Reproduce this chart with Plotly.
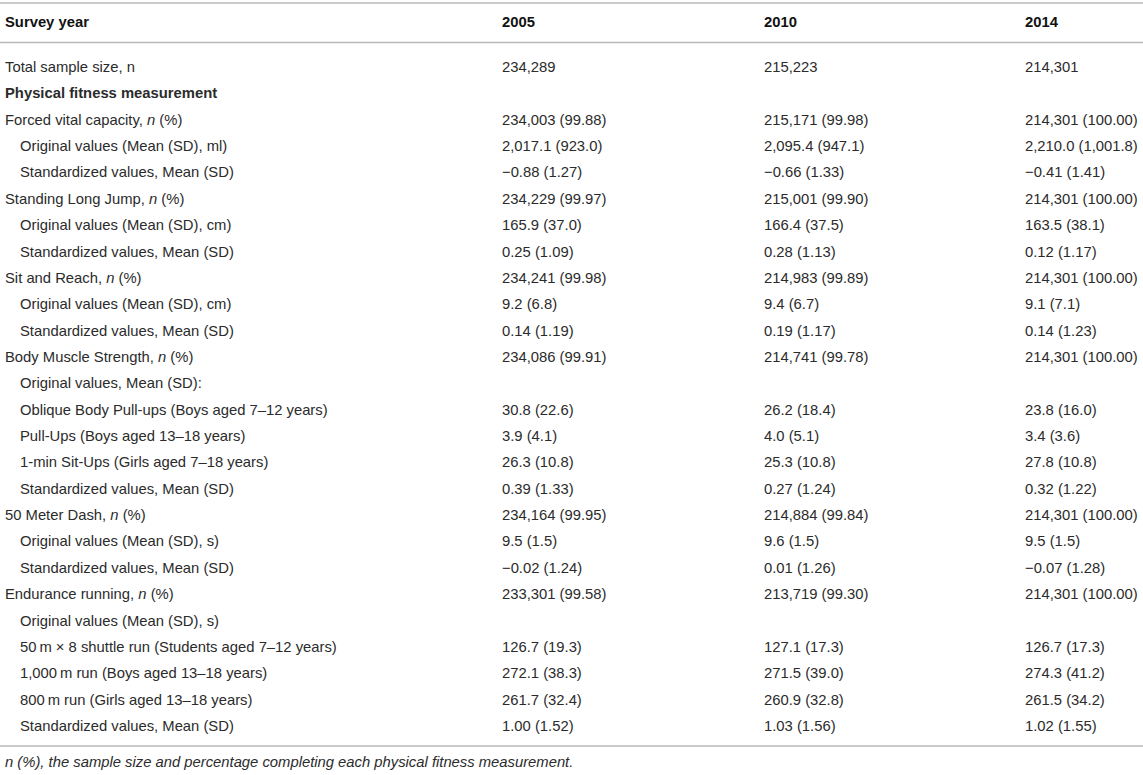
import plotly.graph_objects as go

# column headers
header_label = "Survey year"
years = ["2005", "2010", "2014"]

# row labels and indent level (0 = flush, 1 = indented)
row_labels = [
    "Total sample size, n",
    "<b>Physical fitness measurement</b>",
    "Forced vital capacity, <i>n</i> (%)",
    "Original values (Mean (SD), ml)",
    "Standardized values, Mean (SD)",
    "Standing Long Jump, <i>n</i> (%)",
    "Original values (Mean (SD), cm)",
    "Standardized values, Mean (SD)",
    "Sit and Reach, <i>n</i> (%)",
    "Original values (Mean (SD), cm)",
    "Standardized values, Mean (SD)",
    "Body Muscle Strength, <i>n</i> (%)",
    "Original values, Mean (SD):",
    "Oblique Body Pull-ups (Boys aged 7\u201312 years)",
    "Pull-Ups (Boys aged 13\u201318 years)",
    "1-min Sit-Ups (Girls aged 7\u201318 years)",
    "Standardized values, Mean (SD)",
    "50 Meter Dash, <i>n</i> (%)",
    "Original values (Mean (SD), s)",
    "Standardized values, Mean (SD)",
    "Endurance running, <i>n</i> (%)",
    "Original values (Mean (SD), s)",
    "50\u2009m \u00d7 8 shuttle run (Students aged 7\u201312 years)",
    "1,000\u2009m run (Boys aged 13\u201318 years)",
    "800\u2009m run (Girls aged 13\u201318 years)",
    "Standardized values, Mean (SD)",
]
row_indent = [0, 0, 0, 1, 1, 0, 1, 1, 0, 1, 1, 0, 1, 1, 1, 1, 1, 0, 1, 1, 0, 1, 1, 1, 1, 1]

vals_2005 = [
    "234,289", "", "234,003 (99.88)", "2,017.1 (923.0)", "\u22120.88 (1.27)",
    "234,229 (99.97)", "165.9 (37.0)", "0.25 (1.09)",
    "234,241 (99.98)", "9.2 (6.8)", "0.14 (1.19)",
    "234,086 (99.91)", "", "30.8 (22.6)", "3.9 (4.1)", "26.3 (10.8)", "0.39 (1.33)",
    "234,164 (99.95)", "9.5 (1.5)", "\u22120.02 (1.24)",
    "233,301 (99.58)", "", "126.7 (19.3)", "272.1 (38.3)", "261.7 (32.4)", "1.00 (1.52)",
]
vals_2010 = [
    "215,223", "", "215,171 (99.98)", "2,095.4 (947.1)", "\u22120.66 (1.33)",
    "215,001 (99.90)", "166.4 (37.5)", "0.28 (1.13)",
    "214,983 (99.89)", "9.4 (6.7)", "0.19 (1.17)",
    "214,741 (99.78)", "", "26.2 (18.4)", "4.0 (5.1)", "25.3 (10.8)", "0.27 (1.24)",
    "214,884 (99.84)", "9.6 (1.5)", "0.01 (1.26)",
    "213,719 (99.30)", "", "127.1 (17.3)", "271.5 (39.0)", "260.9 (32.8)", "1.03 (1.56)",
]
vals_2014 = [
    "214,301", "", "214,301 (100.00)", "2,210.0 (1,001.8)", "\u22120.41 (1.41)",
    "214,301 (100.00)", "163.5 (38.1)", "0.12 (1.17)",
    "214,301 (100.00)", "9.1 (7.1)", "0.14 (1.23)",
    "214,301 (100.00)", "", "23.8 (16.0)", "3.4 (3.6)", "27.8 (10.8)", "0.32 (1.22)",
    "214,301 (100.00)", "9.5 (1.5)", "\u22120.07 (1.28)",
    "214,301 (100.00)", "", "126.7 (17.3)", "274.3 (41.2)", "261.5 (34.2)", "1.02 (1.55)",
]

footnote = "<i>n (%), the sample size and percentage completing each physical fitness measurement.</i>"

W, H = 1143, 775
FONT = "Liberation Sans, Arial, Helvetica, sans-serif"
FS = 14.8
TXT = "#2b2b2b"
RULE = "#b8b8b8"

label_x = [3, 18]
col_x = [500, 762, 1023]
header_y = 22
first_row_y = 67
row_step = 26.36

fig = go.Figure()
annots = []

def add_text(x, y, s, bold=False):
    annots.append(dict(
        x=x, y=y, xref="x", yref="y", text=("<b>%s</b>" % s) if bold else s,
        showarrow=False, xanchor="left", yanchor="middle",
        font=dict(family=FONT, size=FS, color="#111" if bold else TXT),
    ))

add_text(label_x[0], header_y, header_label, bold=True)
for cx, yr in zip(col_x, years):
    add_text(cx, header_y, yr, bold=True)

for i, lab in enumerate(row_labels):
    y = first_row_y + i * row_step
    add_text(label_x[row_indent[i]], y, lab)
    for cx, col in zip(col_x, [vals_2005, vals_2010, vals_2014]):
        if col[i]:
            add_text(cx, y, col[i])

last_y = first_row_y + (len(row_labels) - 1) * row_step
add_text(label_x[0], last_y + 36, footnote)

# three horizontal rules: top, under header, bottom
for ry in [3, 42.5, last_y + 20]:
    fig.add_shape(type="line", x0=0, x1=W, y0=ry, y1=ry, xref="x", yref="y",
                  line=dict(color=RULE, width=1.6))

fig.update_layout(
    width=W, height=H,
    margin=dict(l=0, r=0, t=0, b=0),
    paper_bgcolor="white", plot_bgcolor="white",
    xaxis=dict(range=[0, W], visible=False, fixedrange=True),
    yaxis=dict(range=[H, 0], visible=False, fixedrange=True),
    annotations=annots,
    showlegend=False,
)

fig.write_html("out.html", config={"displayModeBar": False},
               post_script="document.body.style.margin='0';document.body.style.overflow='hidden';")
